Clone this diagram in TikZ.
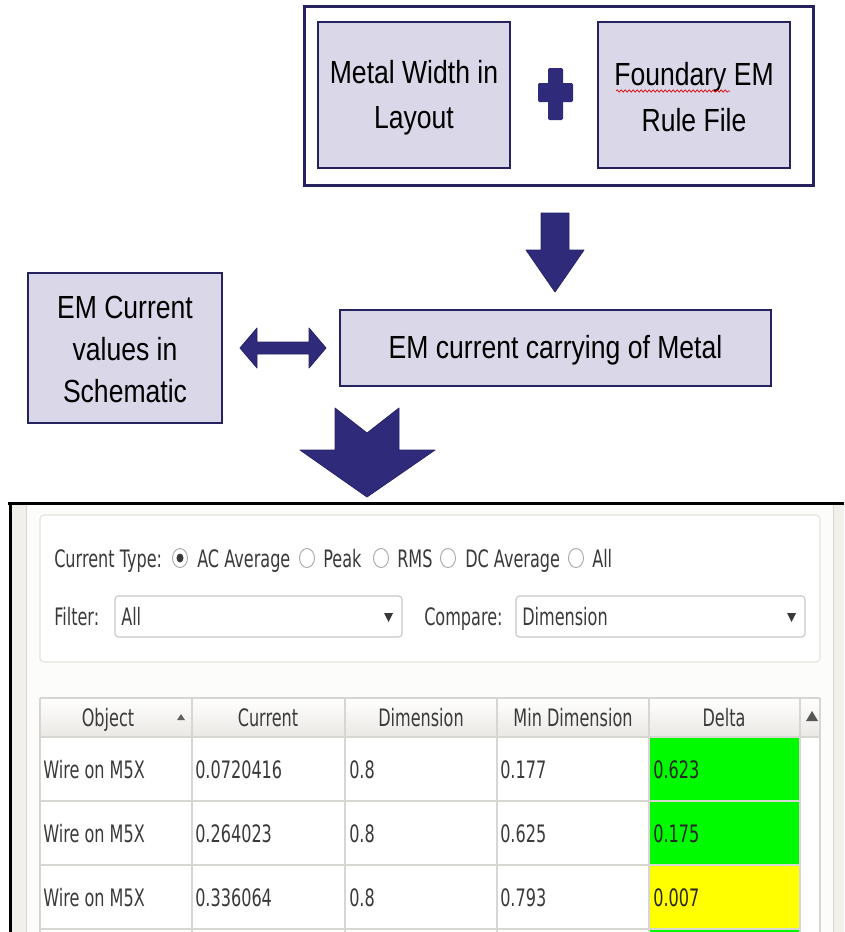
\documentclass[tikz,border=0pt]{standalone}
\usepackage{fontspec}
\usetikzlibrary{calc,decorations.pathmorphing}
\newfontfamily\boxfont[FakeStretch=0.83]{Liberation Sans}
\newfontfamily\uifont[FakeStretch=0.67]{DejaVu Sans}

\definecolor{navyline}{RGB}{38,34,96}
\definecolor{boxfill}{RGB}{217,215,232}
\definecolor{arrowfill}{RGB}{47,42,122}
\definecolor{beige}{RGB}{242,240,235}
\definecolor{panelwhite}{RGB}{252,252,251}
\definecolor{groupline}{RGB}{228,226,221}
\definecolor{uitext}{RGB}{58,58,58}
\definecolor{gridline}{RGB}{216,214,210}
\definecolor{headbottom}{RGB}{234,232,228}
\definecolor{combo}{RGB}{200,198,194}
\definecolor{radioline}{RGB}{170,168,164}
\definecolor{okgreen}{RGB}{0,250,0}
\definecolor{warnyellow}{RGB}{255,255,0}

\tikzset{
  flowbox/.style={draw=navyline, line width=1.9pt, fill=boxfill, inner sep=0pt},
  boxtext/.style={align=center, inner sep=0pt,
    font=\boxfont\fontsize{24}{34}\selectfont},
  blockarrow/.style={fill=arrowfill, draw=arrowfill!85!black, line width=0.6pt, line join=round},
  uilabel/.style={anchor=base west, inner sep=0pt, text=uitext,
    font=\uifont\fontsize{18}{21}\selectfont},
  headlabel/.style={anchor=base, inner sep=0pt, text=uitext,
    font=\uifont\fontsize{18}{21}\selectfont},
  celltext/.style={anchor=base west, inner sep=0pt, text=uitext,
    font=\uifont\fontsize{18}{21}\selectfont},
  radio/.style={draw=radioline, fill=white, line width=0.7pt},
  combobox/.style={draw=combo, fill=white, line width=0.8pt, rounded corners=2.5pt},
}

\begin{document}
\begin{tikzpicture}[x=0.75pt,y=-0.75pt]
\useasboundingbox (0,0) rectangle (844,932);
\fill[white] (0,0) rectangle (844,932);

% ---------- inputs ----------
\node[draw=navyline, line width=2.25pt, fill=white, minimum width=381.75pt,
      minimum height=134.25pt, inner sep=0pt] (inputs) at (558.5,95.5) {};
\node[flowbox, minimum width=144pt, minimum height=109.5pt] (width) at (414,95) {};
\node[boxtext] (widthtxt) at ($(width.center)+(0,3)$) {Metal Width in\\Layout};
\node[flowbox, minimum width=144pt, minimum height=109.5pt] (rules) at (694,95) {};
\node[boxtext] (rulestxt) at ($(rules.center)+(0,2)$) {Foundary EM\\Rule File};
% spell-check mark under the first word
\draw[red!85!black, line width=0.5pt, decorate,
      decoration={snake, amplitude=0.9pt, segment length=3pt}]
  (616,91) -- (730,91);
% plus sign between the inputs
\fill[arrowfill, rounded corners=1pt] (538,83) rectangle (573,102);
\fill[arrowfill, rounded corners=1pt] (548,68) rectangle (563,120);

% ---------- down arrow to the result ----------
\draw[blockarrow] (541,213) -- (569,213) -- (569,250) -- (584,250) -- (555,292)
  -- (526,250) -- (541,250) -- cycle;

\node[flowbox, minimum width=323.25pt, minimum height=57pt] (carry) at (555.5,348) {};
\node[boxtext] (carrytxt) at ($(carry.center)+(0,2)$) {EM current carrying of Metal};
\node[flowbox, minimum width=145.5pt, minimum height=112.5pt] (schem) at (125,348) {};
\node[boxtext, font=\boxfont\fontsize{24}{31.5}\selectfont] (schemtxt)
  at ($(schem.center)+(0,1)$) {EM Current\\values in\\Schematic};

% ---------- two-way comparison arrow ----------
\draw[blockarrow] (240,348) -- (257,328) -- (257,342) -- (309,342) -- (309,328)
  -- (326,348) -- (309,368) -- (309,354) -- (257,354) -- (257,368) -- cycle;

% ---------- report window ----------
\fill[beige] (10,503) rectangle (844,932);
\fill[panelwhite] (26,505) rectangle (833,932);
\draw[gridline, line width=0.6pt] (26,505) -- (26,932) (833,505) -- (833,932);
\draw[black, line width=2.25pt] (8,503) -- (844,503);
\draw[black, line width=2.25pt] (10,502) -- (10,932);

% big arrow into the report
\draw[blockarrow] (335,408) -- (367,433) -- (399,408) -- (399,450) -- (435,450)
  -- (367,497) -- (300,450) -- (335,450) -- cycle;

% options group
\draw[groupline, fill=white, line width=0.8pt, rounded corners=3pt]
  (40,515) rectangle (820,662);

\node[uilabel] (ctype) at (54,567) {Current Type:};
\draw[radio] (180,558) ellipse[x radius=7.5, y radius=9.5];
\fill[uitext] (180,558) ellipse[x radius=3.5, y radius=4.5];
\node[uilabel] (acavg) at (197,567) {AC Average};
\draw[radio] (307,558) ellipse[x radius=7.5, y radius=9.5];
\node[uilabel] (peak) at (323,567) {Peak};
\draw[radio] (381,558) ellipse[x radius=7.5, y radius=9.5];
\node[uilabel] (rms) at (397,567) {RMS};
\draw[radio] (448,558) ellipse[x radius=7.5, y radius=9.5];
\node[uilabel] (dcavg) at (465,567) {DC Average};
\draw[radio] (576,558) ellipse[x radius=7.5, y radius=9.5];
\node[uilabel] (allc) at (592,567) {All};

\node[uilabel] (filt) at (54,625) {Filter:};
\draw[combobox] (115,596) rectangle (402,637);
\node[uilabel] (filtval) at (121,625) {All};
\fill[uitext] (384,613) -- (393,613) -- (388.5,622) -- cycle;
\node[uilabel] (cmp) at (424,625) {Compare:};
\draw[combobox] (516,596) rectangle (805,637);
\node[uilabel] (cmpval) at (522,625) {Dimension};
\fill[uitext] (787,613) -- (796,613) -- (791.5,622) -- cycle;

% results table
\fill[white] (40,698) rectangle (820,932);
\shade[top color=white, bottom color=headbottom] (40,698) rectangle (820,737);
\fill[okgreen] (650,738) rectangle (800,800);
\fill[okgreen] (650,802) rectangle (800,864);
\fill[warnyellow] (650,866) rectangle (800,928);
\fill[okgreen] (650,930) rectangle (800,932);
\draw[gridline, line width=0.8pt]
  (40,698) -- (820,698) (40,737) -- (820,737)
  (40,801) -- (800,801) (40,865) -- (800,865) (40,929) -- (800,929);
\foreach \cx in {40,192,345,497,649,800,820}
  \draw[gridline, line width=0.8pt] (\cx,698) -- (\cx,932);

\node[headlabel] (hobj) at (108,726) {Object};
\fill[uitext!80] (177,720) -- (185,720) -- (181,714) -- cycle;
\node[headlabel] (hcur) at (268,726) {Current};
\node[headlabel] (hdim) at (421,726) {Dimension};
\node[headlabel] (hmin) at (573,726) {Min Dimension};
\node[headlabel] (hdel) at (724,726) {Delta};
\fill[uitext!85] (806,721) -- (818,721) -- (812,711) -- cycle;

\foreach \cur/\mind/\del/\yb [count=\r] in
  {0.0720416/0.177/0.623/778, 0.264023/0.625/0.175/842, 0.336064/0.793/0.007/906} {
  \node[celltext] (obj\r) at (43,\yb) {Wire on M5X};
  \node[celltext] (cur\r) at (195,\yb) {\cur};
  \node[celltext] (dim\r) at (349,\yb) {0.8};
  \node[celltext] (min\r) at (500,\yb) {\mind};
  \node[celltext, text=black!85] (del\r) at (653,\yb) {\del};
}
\end{tikzpicture}
\end{document}
